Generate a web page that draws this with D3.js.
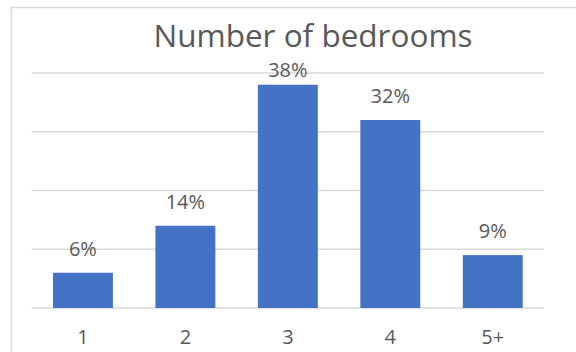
<!DOCTYPE html>
<html>
<head>
<meta charset="utf-8">
<script src="https://cdn.jsdelivr.net/npm/d3@7"></script>
<style>
  html, body { margin: 0; padding: 0; background: #fff; }
  svg { display: block; }
  text { font-family: "Open Sans", "Noto Sans", sans-serif; fill: #595959; }
</style>
</head>
<body>
<script>
// Share of homes by number of bedrooms
const categories = ["1", "2", "3", "4", "5+"];
const shares = [6, 14, 38, 32, 9];
const yTicks = [0, 10, 20, 30, 40];
const chartTitle = "Number of bedrooms";

const W = 576, H = 352;
const plot = { left: 31.7, right: 544, top: 73, bottom: 308 };

const svg = d3.select("body").append("svg")
  .attr("width", W).attr("height", H);

// chart frame (extends past the right and bottom edges)
svg.append("rect")
  .attr("x", 11.5).attr("y", 7.5)
  .attr("width", 640).attr("height", 400)
  .attr("fill", "#fff")
  .attr("stroke", "#d9d9d9").attr("stroke-width", 1.5);

const x = d3.scaleBand()
  .domain(categories)
  .range([plot.left, plot.right])
  .paddingInner(0.415)
  .paddingOuter(0.2075);

const y = d3.scaleLinear()
  .domain([0, 40])
  .range([plot.bottom, plot.top]);

// horizontal gridlines
svg.append("g")
  .selectAll("line")
  .data(yTicks)
  .join("line")
  .attr("x1", plot.left).attr("x2", plot.right)
  .attr("y1", d => y(d)).attr("y2", d => y(d))
  .attr("stroke", "#d9d9d9").attr("stroke-width", 1.5);

// bars
svg.append("g")
  .selectAll("rect")
  .data(shares)
  .join("rect")
  .attr("x", (d, i) => x(categories[i]))
  .attr("width", x.bandwidth())
  .attr("y", d => y(d))
  .attr("height", d => y(0) - y(d))
  .attr("fill", "#4472c4");

// value labels above bars, kept from rising past the top of the plot
svg.append("g")
  .selectAll("text")
  .data(shares)
  .join("text")
  .attr("x", (d, i) => x(categories[i]) + x.bandwidth() / 2)
  .attr("y", d => Math.max(y(d) - 17, plot.top + 4))
  .attr("text-anchor", "middle")
  .attr("font-size", 20)
  .text(d => d + "%");

// category axis labels
const xAxis = svg.append("g")
  .attr("transform", `translate(0,${plot.bottom})`)
  .call(d3.axisBottom(x).tickSize(0).tickPadding(22));
xAxis.select(".domain").remove();
xAxis.selectAll("text")
  .attr("font-size", 20)
  .attr("fill", "#595959")
  .style("font-family", '"Open Sans", "Noto Sans", sans-serif');

// title
svg.append("text")
  .attr("x", 313).attr("y", 47)
  .attr("text-anchor", "middle")
  .attr("font-size", 31.5)
  .text(chartTitle);
</script>
</body>
</html>
